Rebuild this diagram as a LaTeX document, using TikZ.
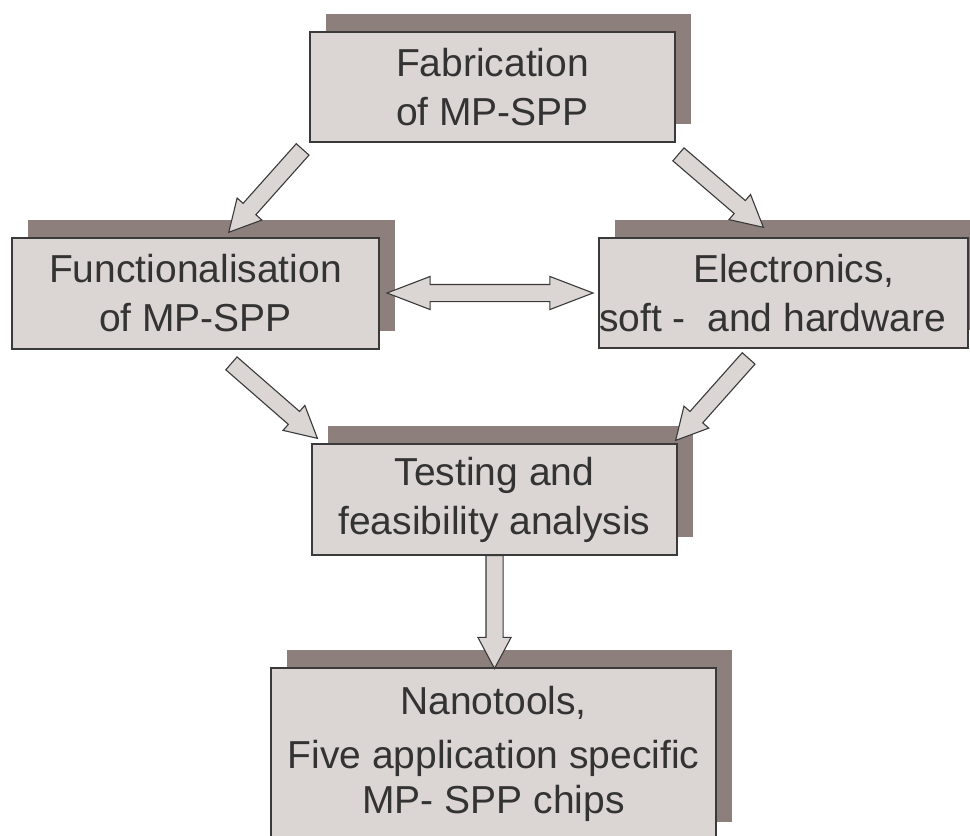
\documentclass[tikz,border=0pt]{standalone}
\usepackage{fontspec}
\setmainfont{Liberation Sans}
\usetikzlibrary{shapes.arrows,shadows,calc}
\definecolor{boxfill}{HTML}{DBD5D3}
\definecolor{boxshadow}{HTML}{8C7F7C}
\definecolor{boxline}{HTML}{3A3A3A}
\definecolor{boxtext}{HTML}{333333}
\newcommand{\blockarrow}[3]{\path let \p1=($(#3)-(#2)$), \n1={atan2(\y1,\x1)}, \n2={veclen(\x1,\y1)} in node[barrow, minimum height=\n2, rotate=\n1] (#1) at (#2) {};}
\newcommand{\dblockarrow}[3]{\path let \p1=($(#3)-(#2)$), \n1={atan2(\y1,\x1)}, \n2={veclen(\x1,\y1)} in node[dbarrow, minimum height=\n2, rotate=\n1] (#1) at ($(#2)!0.5!(#3)$) {};}

\begin{document}
\begin{tikzpicture}[x=0.5pt,y=-0.5pt]
\tikzstyle{box}=[rectangle, draw=boxline, line width=0.7pt, fill=boxfill, text=boxtext, font=\fontsize{19.5}{24.5}\selectfont, align=center, inner sep=0pt, outer sep=0pt, drop shadow={shadow xshift=8pt, shadow yshift=9pt, fill=boxshadow, opacity=1}]
\tikzstyle{barrow}=[single arrow, anchor=tail, draw=boxline, line width=0.55pt, fill=boxfill, inner xsep=0pt, inner ysep=4pt, text height=0pt, text depth=0pt, single arrow head extend=4pt, single arrow tip angle=56]
\tikzstyle{dbarrow}=[double arrow, draw=boxline, line width=0.55pt, fill=boxfill, inner xsep=0pt, inner ysep=4pt, text height=0pt, text depth=0pt, double arrow head extend=4pt, double arrow tip angle=42]
\useasboundingbox (0,0) rectangle (970,836);
\node[box, minimum width=182.5pt, minimum height=55pt] (fab) at (492.5,87) {Fabrication\\of MP-SPP};
\node[box, minimum width=183.5pt, minimum height=55.5pt] (func) at (195.5,293.5) {Functionalisation\\of MP-SPP};
\node[box, minimum width=183.5pt, minimum height=55pt, align=left] (elec) at (783.5,293) {\hspace*{47pt}Electronics,\\soft -\ \ and hardware\hspace*{11pt}};
\node[box, minimum width=182.5pt, minimum height=55.5pt] (test) at (494.5,499.5) {Testing and\\feasibility analysis};
\node[box, minimum width=222.5pt, minimum height=86pt] (nano) at (493.5,754) {Nanotools,\\[2.5pt]Five application specific\\[-2pt]MP- SPP chips};
\coordinate (fab-l) at (303,149);
\coordinate (func-t) at (229,232);
\coordinate (fab-r) at (678,154);
\coordinate (elec-t) at (763,227);
\coordinate (func-b) at (231,363);
\coordinate (test-l) at (317,438);
\coordinate (elec-b) at (749,358);
\coordinate (test-r) at (676,440);
\coordinate (func-r) at (387,293);
\coordinate (elec-l) at (593,293);
\blockarrow{fab2func}{fab-l}{func-t}
\blockarrow{fab2elec}{fab-r}{elec-t}
\blockarrow{func2test}{func-b}{test-l}
\blockarrow{elec2test}{elec-b}{test-r}
\dblockarrow{func2elec}{func-r}{elec-l}
\blockarrow{test2nano}{test.south}{test.south |- nano.north}
\end{tikzpicture}
\end{document}
